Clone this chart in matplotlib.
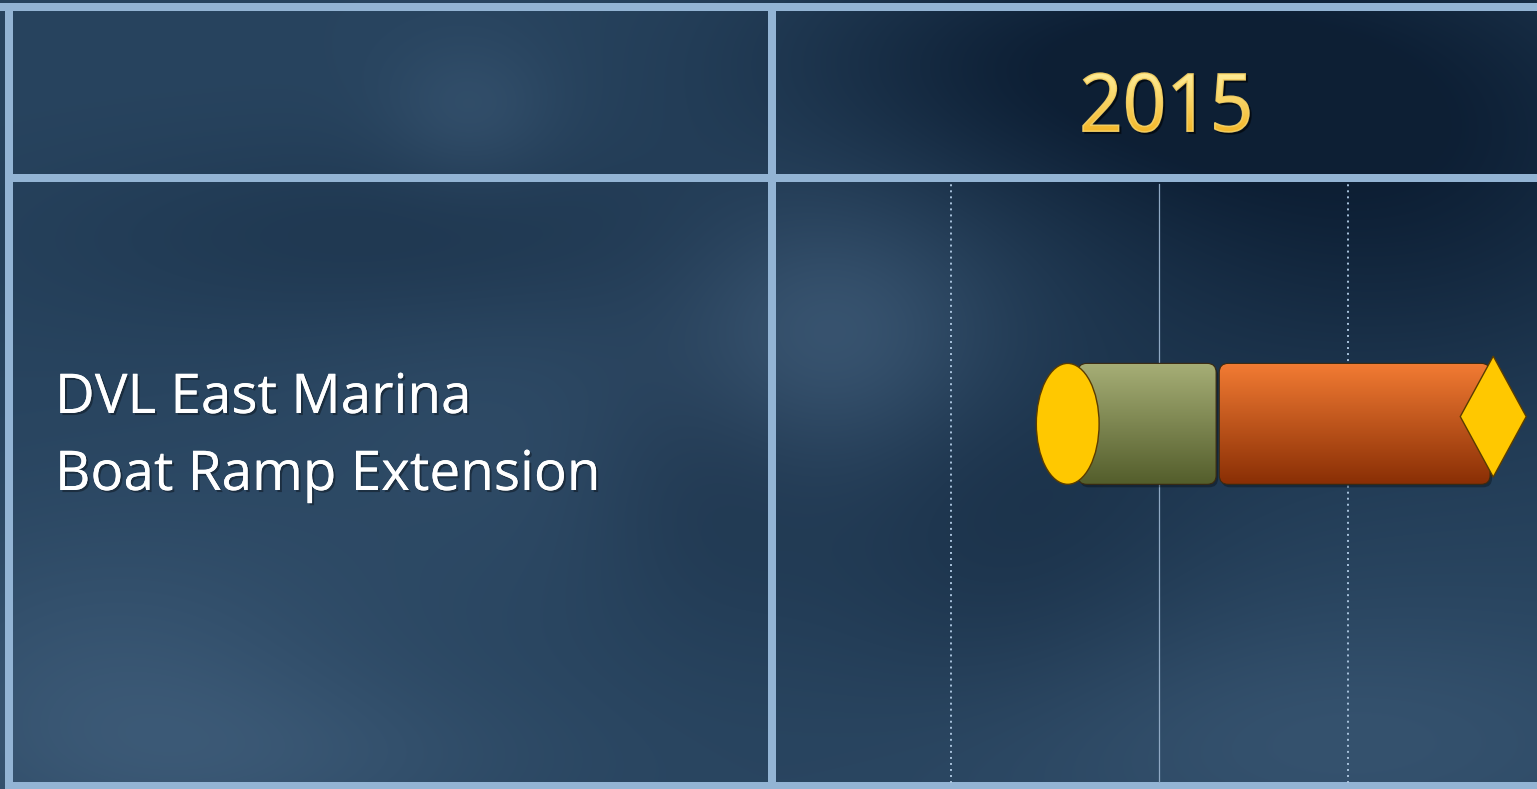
import numpy as np
import matplotlib
matplotlib.use("Agg")
from matplotlib import pyplot as plt
from matplotlib.patches import FancyBboxPatch, Ellipse, Polygon, PathPatch
from matplotlib.textpath import TextPath
from matplotlib.font_manager import FontProperties
from matplotlib.transforms import Affine2D
import matplotlib.patheffects as pe

# Chart data (timeline in months of 2015, 0 = start of the column)
year_label = "2015"
task_lines = ["DVL East Marina", "Boat Ramp Extension"]
phase_starts = [4.76, 6.99]
phase_ends = [6.94, 11.26]
phase_top_colors = ["#a6ae76", "#f27b33"]
phase_bottom_colors = ["#545e2c", "#8a2f05"]
start_milestone = 4.60
end_milestone = 11.31
grid_months = [2.76, 6.04, 9.02]
grid_styles = ["dotted", "solid", "dotted"]

W, H = 1537, 789
BORDER = "#93b4d4"


def hex_rgb(c):
    return np.array(matplotlib.colors.to_rgb(c))


def blob(xx, yy, cx, cy, sx, sy=None):
    sy = sx if sy is None else sy
    return np.exp(-(((xx - cx) / sx) ** 2 + ((yy - cy) / sy) ** 2) / 2)


# background texture: dark blue with soft light patches
yy, xx = np.mgrid[0:H, 0:W].astype(float)
bg_img = np.ones((H, W, 3)) * hex_rgb("#28445f")
dark = (blob(xx, yy, 1380, 150, 270, 180) * 0.85
        + blob(xx, yy, 1050, 60, 220, 90) * 0.55
        + blob(xx, yy, 400, 240, 260, 70) * 0.3
        + blob(xx, yy, 700, 460, 90, 120) * 0.3
        + blob(xx, yy, 1000, 480, 160, 90) * 0.3
        + blob(xx, yy, 990, 620, 140, 90) * 0.2)
dark = np.clip(dark, 0, 0.9)[..., None]
navy = hex_rgb("#0a1b30")[None, None, :]
bg_img = bg_img * (1 - dark) + navy * dark
light = (blob(xx, yy, 470, 110, 60, 50) * 0.05
         + blob(xx, yy, 830, 330, 110, 90) * 0.09
         + blob(xx, yy, 110, 690, 180, 120) * 0.07
         + blob(xx, yy, 1340, 740, 260, 90) * 0.06
         + blob(xx, yy, 300, 760, 200, 60) * 0.04
         + blob(xx, yy, 560, 430, 200, 120) * 0.03)
bg_img = np.clip(bg_img + light[..., None] * np.array([0.85, 0.92, 1.0]), 0, 1)

fig = plt.figure(figsize=(W / 100, H / 100), dpi=100)
bg = fig.add_axes([0, 0, 1, 1])
bg.imshow(bg_img, extent=(0, W, H, 0), aspect="auto", zorder=0)
bg.set_xlim(0, W)
bg.set_ylim(H, 0)
bg.axis("off")

# table frame
bg.fill_between([0, W], 3, 11, color=BORDER, lw=0, zorder=5)
bg.fill_between([5, W], 174, 182, color=BORDER, lw=0, zorder=5)
bg.fill_between([5, W], 782, 790, color=BORDER, lw=0, zorder=5)
bg.fill_betweenx([3, 790], 5, 13, color=BORDER, lw=0, zorder=5)
bg.fill_betweenx([3, 790], 768, 776, color=BORDER, lw=0, zorder=5)

shadow = [pe.withSimplePatchShadow(offset=(1.5, -1.5), shadow_rgbFace="black", alpha=0.35), pe.Normal()]
for line, base_y in zip(task_lines, [413, 490]):
    bg.text(55, base_y, line, color="white", fontsize=39.5, family="Open Sans",
            ha="left", va="baseline", zorder=6, path_effects=shadow)

# year header with a gold gradient
tp = TextPath((0, 0), year_label, size=80, prop=FontProperties(family="Open Sans"))
bb = tp.get_extents()
sx = 166 / bb.width
sy = 59 / bb.height
tr = Affine2D().translate(-bb.x0 - bb.width / 2, -bb.y0).scale(sx, -sy).translate(1166, 132)
ypath = tr.transform_path(tp)
sh = PathPatch(ypath, transform=Affine2D().translate(2, 2) + bg.transData,
               fc="black", ec="black", lw=1.2, alpha=0.45, zorder=6)
bg.add_patch(sh)
yp = PathPatch(ypath, transform=bg.transData, fc="none", ec="none", zorder=7)
bg.add_patch(yp)
g = np.linspace(0, 1, 64)[:, None, None]
gold = hex_rgb("#fff1a0")[None, None, :] * (1 - g) + hex_rgb("#f3b322")[None, None, :] * g
gim = bg.imshow(np.repeat(gold, 2, axis=1), extent=(1166 - 90, 1166 + 90, 136, 68),
                aspect="auto", zorder=7, interpolation="bilinear")
gim.set_clip_path(yp)
# thin outline to thicken the strokes a little
bg.add_patch(PathPatch(ypath, transform=bg.transData, fc="none", ec="#f9d466",
                       lw=1.1, alpha=0.9, zorder=7.5))

# timeline axes over the 2015 column
ax = fig.add_axes([776 / W, (H - 783) / H, (W - 776) / W, (783 - 182) / H])
ax.set_xlim(0, 12)
ax.set_ylim(-2.97, 2.0)
ax.axis("off")
ax.patch.set_alpha(0)

for m, st in zip(grid_months, grid_styles):
    if st == "dotted":
        ax.axvline(m, color="#a9c3dd", lw=1.4, ls=(0, (1, 2.1)), zorder=1)
    else:
        ax.axvline(m, ymax=0.997, color="#8fa9c4", lw=0.9, zorder=1)

row_y = 0.0
bar_h = 1.0
px_x = 12 / 761.0
px_y = 4.97 / 601.0
for x0, x1, ctop, cbot in zip(phase_starts, phase_ends, phase_top_colors, phase_bottom_colors):
    # soft drop shadow
    ax.add_patch(FancyBboxPatch((x0 + 2 * px_x, row_y - bar_h / 2 - 3 * px_y), x1 - x0, bar_h,
                                boxstyle="round,pad=0,rounding_size=%f" % (9 * px_x),
                                mutation_aspect=px_y / px_x, fc="black", ec="none",
                                alpha=0.3, zorder=2))
    box = FancyBboxPatch((x0, row_y - bar_h / 2), x1 - x0, bar_h,
                         boxstyle="round,pad=0,rounding_size=%f" % (9 * px_x),
                         mutation_aspect=px_y / px_x,
                         fc="none", ec="#3b2a10", lw=0.8, zorder=4)
    ax.add_patch(box)
    grad = np.linspace(0, 1, 64)[:, None]
    cols = hex_rgb(ctop)[None, None, :] * (1 - grad[..., None]) + hex_rgb(cbot)[None, None, :] * grad[..., None]
    im = ax.imshow(cols, extent=(x0, x1, row_y - bar_h / 2, row_y + bar_h / 2),
                   aspect="auto", zorder=3, interpolation="bilinear")
    im.set_clip_path(box)

ax.add_patch(Ellipse((start_milestone, row_y), 0.99, bar_h, fc="#ffc800",
                     ec="#5a3c00", lw=1.0, zorder=5))
dy = 0.06
dw, dh = 0.52, 0.50
ax.add_patch(Polygon([(end_milestone - dw, row_y + dy), (end_milestone, row_y + dy + dh),
                      (end_milestone + dw, row_y + dy), (end_milestone, row_y + dy - dh)],
                     closed=True, fc="#ffc800", ec="#5a3c00", lw=1.0, zorder=5))

fig.savefig("out.png", dpi=100)
